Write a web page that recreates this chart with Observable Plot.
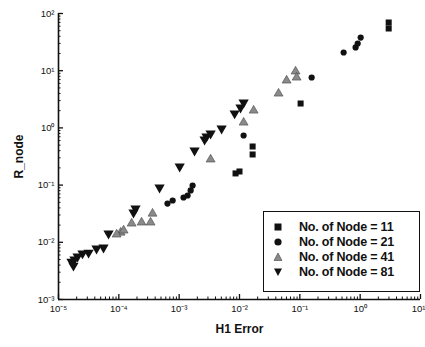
<!DOCTYPE html>
<html>
<head>
<meta charset="utf-8">
<script src="https://cdn.jsdelivr.net/npm/d3@7"></script>
<script src="https://cdn.jsdelivr.net/npm/@observablehq/plot@0.6"></script>
<style>
  html, body { margin: 0; padding: 0; background: #fff; }
  #wrap { position: relative; width: 425px; height: 347px; font-family: "Liberation Sans", Arial, sans-serif; }
  #legend { position: absolute; left: 263px; top: 211px; width: 157px; height: 81px; border: 1.5px solid #111; background: #fff; box-sizing: border-box; padding-top: 7px; }
  .row { display: flex; align-items: center; height: 15px; font-size: 12.5px; font-weight: bold; color: #111; letter-spacing: -0.2px; }
  .row svg { margin-left: 9px; margin-right: 16px; }
</style>
</head>
<body>
<div id="wrap"></div>
<script>
// Node = 11 (squares)
const h1_11 = [2.97, 2.97, 0.103, 0.0165, 0.0165, 0.0086, 0.0100];
const r_11  = [69.6, 54.7, 2.67, 0.473, 0.343, 0.160, 0.173];
// Node = 21 (circles)
const h1_21 = [0.157, 0.532, 0.84, 0.91, 1.02, 0.0117, 6.4e-4, 7.8e-4, 1.18e-3, 1.38e-3, 1.55e-3, 1.67e-3];
const r_21  = [7.6, 20.8, 25.5, 29.9, 38.0, 0.736, 0.0476, 0.0538, 0.0607, 0.0658, 0.0806, 0.0985];
// Node = 41 (triangles, hatched)
const h1_41 = [0.085, 0.0885, 0.0604, 0.0444, 0.01715, 0.0117, 3.32e-3, 3.62e-4, 3.36e-4, 2.38e-4, 1.63e-4, 1.07e-4, 1.20e-4, 9.2e-5];
const r_41  = [9.7, 7.6, 6.74, 3.99, 2.01, 1.24, 0.281, 0.0318, 0.0222, 0.0222, 0.0213, 0.0148, 0.0161, 0.0137];
// Node = 81 (inverted triangles)
const h1_81 = [0.0117, 0.0104, 8.3e-3, 5.05e-3, 3.32e-3, 2.84e-3, 2.64e-3, 1.80e-3, 1.02e-3, 4.73e-4, 1.89e-4, 1.75e-4, 6.75e-5, 5.57e-5, 4.27e-5, 3.15e-5, 2.5e-5, 2.07e-5, 1.84e-5, 1.64e-5, 1.77e-5];
const r_81  = [2.78, 2.27, 1.79, 0.977, 0.798, 0.708, 0.627, 0.403, 0.211, 0.0908, 0.039, 0.0332, 0.01426, 8.1e-3, 7.8e-3, 6.6e-3, 6.4e-3, 5.65e-3, 5.0e-3, 4.6e-3, 3.9e-3];

const seriesNames = ["No. of Node = 11", "No. of Node = 21", "No. of Node = 41", "No. of Node = 81"];
const xMajor = [1e-5, 1e-4, 1e-3, 1e-2, 1e-1, 1e0, 1e1];
const xLabels = ["10\u207B\u2075", "10\u207B\u2074", "10\u207B\u00B3", "10\u207B\u00B2", "10\u207B\u00B9", "10\u2070", "10\u00B9"];
const yMajor = [1e-3, 1e-2, 1e-1, 1e0, 1e1, 1e2];
const yLabels = ["10\u207B\u00B3", "10\u207B\u00B2", "10\u207B\u00B9", "10\u2070", "10\u00B9", "10\u00B2"];

const minorOf = (majors) => majors.slice(0, -1).flatMap(m => [2,3,4,5,6,7,8,9].map(k => k * m));
const xMinor = minorOf(xMajor);
const yMinor = minorOf(yMajor);

const toRows = (xs, ys) => xs.map((x, i) => ({x, y: ys[i]}));
const d11 = toRows(h1_11, r_11), d21 = toRows(h1_21, r_21), d41 = toRows(h1_41, r_41), d81 = toRows(h1_81, r_81);

const fmt = (labels, majors) => d => labels[majors.findIndex(m => Math.abs(m - d) / m < 1e-6)];

const chart = Plot.plot({
  width: 425, height: 347,
  marginLeft: 58, marginRight: 5, marginTop: 13, marginBottom: 48,
  style: {fontFamily: "Liberation Sans, Arial, sans-serif", background: "#fff", color: "#111"},
  x: {type: "log", domain: [1e-5, 10]},
  y: {type: "log", domain: [1e-3, 100]},
  marks: [
    // minor ticks (inward)
    Plot.axisX({ticks: xMinor, tickSize: 2.5, dy: -2.5, tickFormat: () => "", label: null, strokeWidth: 1}),
    Plot.axisY({ticks: yMinor, tickSize: 2.5, dx: 2.5, tickFormat: () => "", label: null, strokeWidth: 1}),
    // major ticks (inward)
    Plot.axisX({ticks: xMajor, tickSize: 5, dy: -5, tickFormat: () => "", label: null, strokeWidth: 1.3}),
    Plot.axisY({ticks: yMajor, tickSize: 5, dx: 5, tickFormat: () => "", label: null, strokeWidth: 1.3}),
    // labels
    Plot.axisX({ticks: xMajor.slice(0, -1), tickSize: 0, tickPadding: 6, tickFormat: fmt(xLabels, xMajor), fontSize: 9.5,
      label: "H1 Error", labelAnchor: "center", labelOffset: 33, labelArrow: "none"}),
    Plot.axisX({ticks: xMajor.slice(-1), tickSize: 0, tickPadding: 6, tickFormat: fmt(xLabels, xMajor), fontSize: 9.5,
      textAnchor: "end", dx: 5, label: null}),
    Plot.axisY({ticks: yMajor, tickSize: 0, tickPadding: 4, tickFormat: fmt(yLabels, yMajor), fontSize: 9.5,
      label: "R_node", labelAnchor: "center", labelOffset: 44, labelArrow: "none"}),
    Plot.ruleX([1e-5], {strokeWidth: 1.6, stroke: "#111"}),
    Plot.ruleY([1e-3], {strokeWidth: 1.6, stroke: "#111"}),
    Plot.dot(d41, {x: "x", y: "y", symbol: "triangle", r: 3.3, fill: "#8a8a8a", stroke: "#444", strokeWidth: 0.6}),
    Plot.dot(d81, {x: "x", y: "y", symbol: "triangle", rotate: 180, r: 3.8, fill: "#111", stroke: "none"}),
    Plot.dot(d21, {x: "x", y: "y", symbol: "circle", r: 3.1, fill: "#111", stroke: "none"}),
    Plot.dot(d11, {x: "x", y: "y", symbol: "square", r: 3.4, fill: "#111", stroke: "none"})
  ]
});
const wrap = document.getElementById("wrap");
wrap.appendChild(chart);
d3.select(chart).selectAll("[aria-label='x-axis label'] text, [aria-label='y-axis label'] text")
  .style("font-size", "12px").style("font-weight", "bold");

// legend
const legend = document.createElement("div");
legend.id = "legend";
const symSvg = [
  '<rect x="1.5" y="1.5" width="7" height="7" fill="#111"/>',
  '<circle cx="5" cy="5" r="3.6" fill="#111"/>',
  '<path d="M5 1 L9 8.5 L1 8.5 Z" fill="#8a8a8a" stroke="#444" stroke-width="0.6"/>',
  '<path d="M1 1.5 L9 1.5 L5 9 Z" fill="#111"/>'
];
seriesNames.forEach((name, i) => {
  const row = document.createElement("div");
  row.className = "row";
  row.innerHTML = `<svg width="10" height="10">${symSvg[i]}</svg><span>${name}</span>`;
  legend.appendChild(row);
});
wrap.appendChild(legend);
</script>
</body>
</html>
